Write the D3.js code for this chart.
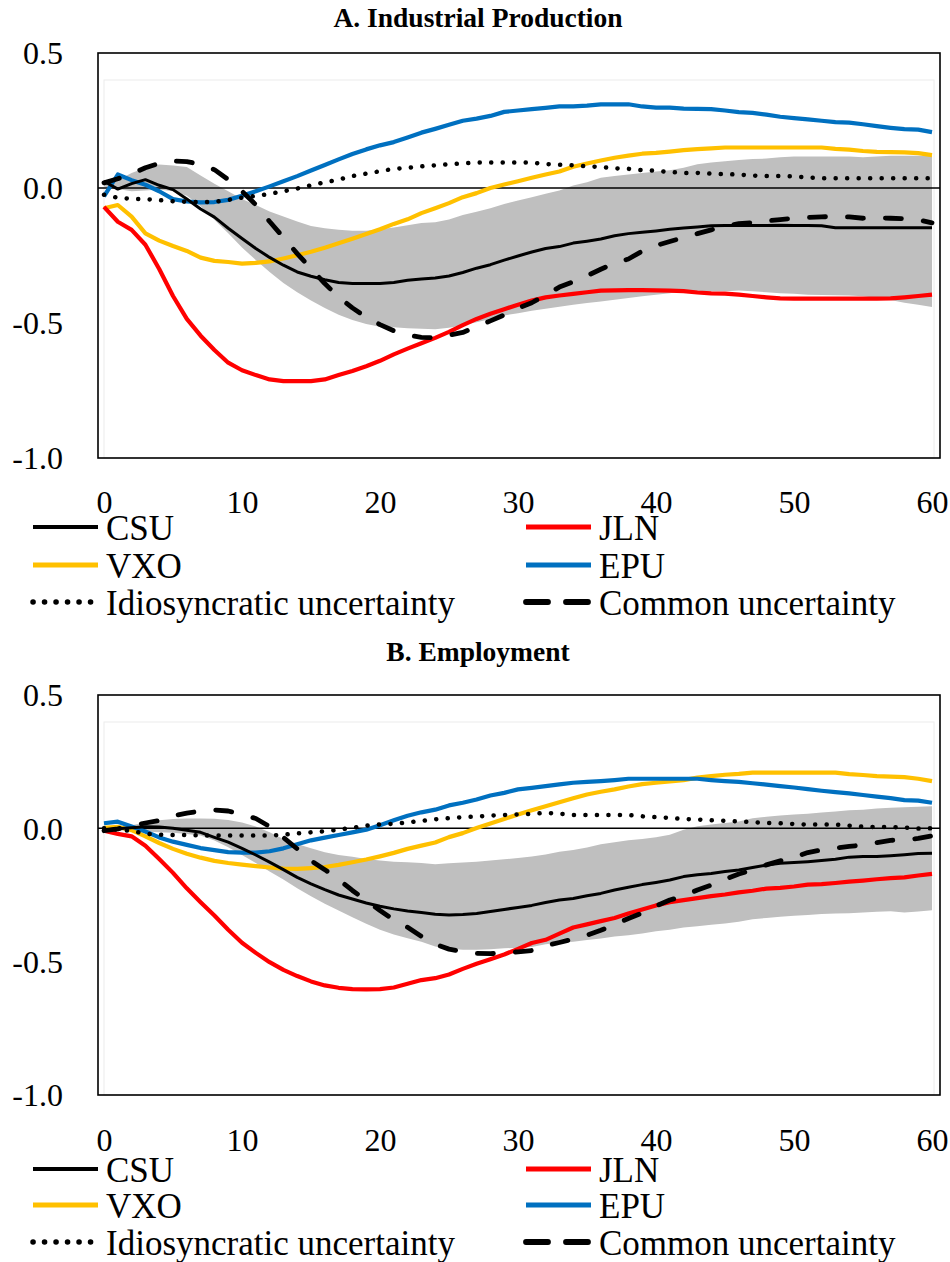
<!DOCTYPE html>
<html lang="en">
<head>
<meta charset="UTF-8">
<title>Uncertainty shocks IRF</title>
<style>
  body { margin: 0; background: #fff; }
</style>
</head>
<body>
<svg id="chart" width="950" height="1262"></svg>
<script src="https://d3js.org/d3.v7.min.js"></script>
<script>
// horizons (months) 0..60
const horizons = d3.range(0, 61);
const xTicks = [0, 10, 20, 30, 40, 50, 60];
const yTicks = [0.5, 0.0, -0.5, -1.0];
const titles = ["A. Industrial Production", "B. Employment"];
const seriesNames = ["CSU", "JLN", "VXO", "EPU", "Idiosyncratic uncertainty", "Common uncertainty"];
const FONT = "'Liberation Serif'";

// ---- Panel A: Industrial Production ----
const ipCSU = [0.025,-0.004,0.016,0.031,0.01,-0.006,-0.041,-0.078,-0.108,-0.149,-0.187,-0.224,-0.257,-0.286,-0.311,-0.327,-0.34,-0.35,-0.354,-0.354,-0.354,-0.35,-0.342,-0.337,
  -0.333,-0.326,-0.313,-0.297,-0.284,-0.267,-0.252,-0.237,-0.224,-0.217,-0.204,-0.197,-0.189,-0.177,-0.169,-0.164,-0.159,-0.153,-0.148,-0.144,-0.14,-0.139,-0.139,-0.139,-0.139,-0.138,-0.139,-0.139,-0.14,-0.147,-0.147,-0.147,-0.147,-0.147,-0.147,-0.147,-0.147];
const ipJLN = [-0.07,-0.125,-0.155,-0.21,-0.30,-0.40,-0.485,-0.547,-0.60,-0.647,-0.675,-0.693,-0.709,-0.715,-0.715,-0.715,-0.709,-0.693,-0.678,-0.66,-0.64,-0.616,
  -0.595,-0.575,-0.555,-0.533,-0.508,-0.485,-0.466,-0.449,-0.432,-0.417,-0.405,-0.398,-0.392,-0.386,-0.38,-0.379,-0.378,-0.378,-0.379,-0.38,-0.382,-0.387,-0.39,-0.391,-0.395,-0.40,-0.405,-0.409,-0.41,-0.41,-0.41,-0.41,-0.41,-0.41,-0.41,-0.409,-0.405,-0.40,-0.395];
const ipVXO = [-0.075,-0.063,-0.106,-0.168,-0.195,-0.215,-0.233,-0.258,-0.27,-0.274,-0.28,-0.277,-0.272,-0.261,-0.249,-0.236,-0.221,-0.205,-0.188,-0.17,-0.153,-0.133,-0.116,-0.093,
  -0.075,-0.056,-0.034,-0.019,0.0,0.013,0.025,0.038,0.05,0.061,0.079,0.091,0.102,0.112,0.12,0.127,0.13,0.135,0.14,0.144,0.147,0.15,0.15,0.15,0.15,0.15,0.15,0.15,0.15,0.145,0.142,0.137,0.134,0.133,0.132,0.129,0.122];
const ipEPU = [-0.031,0.05,0.029,0.012,-0.012,-0.041,-0.05,-0.053,-0.052,-0.044,-0.029,-0.012,0.006,0.025,0.044,0.065,0.085,0.106,0.126,0.143,0.158,0.17,0.187,0.205,
  0.219,0.234,0.249,0.257,0.267,0.282,0.287,0.292,0.297,0.302,0.302,0.305,0.31,0.31,0.31,0.302,0.298,0.298,0.294,0.293,0.292,0.287,0.281,0.278,0.272,0.264,0.259,0.254,0.249,0.244,0.242,0.236,0.229,0.223,0.218,0.216,0.207];
const ipIdio = [-0.025,-0.036,-0.04,-0.041,-0.045,-0.049,-0.051,-0.053,-0.051,-0.044,-0.036,-0.029,-0.022,-0.012,-0.002,0.01,0.021,0.031,0.044,0.053,0.062,0.071,0.075,0.08,
  0.084,0.088,0.091,0.094,0.094,0.094,0.094,0.094,0.089,0.086,0.084,0.08,0.078,0.073,0.071,0.066,0.064,0.059,0.056,0.056,0.053,0.051,0.05,0.046,0.044,0.044,0.043,0.039,0.036,0.036,0.036,0.036,0.036,0.036,0.036,0.036,0.036];
const ipCommon = [0.019,0.034,0.053,0.075,0.091,0.1,0.098,0.087,0.068,0.031,-0.012,-0.062,-0.124,-0.183,-0.243,-0.299,-0.354,-0.404,-0.444,-0.479,-0.506,-0.529,-0.545,-0.553,
  -0.555,-0.545,-0.535,-0.514,-0.492,-0.47,-0.445,-0.425,-0.397,-0.367,-0.347,-0.325,-0.301,-0.279,-0.263,-0.234,-0.213,-0.198,-0.184,-0.169,-0.155,-0.142,-0.132,-0.128,-0.122,-0.117,-0.112,-0.109,-0.107,-0.105,-0.107,-0.112,-0.11,-0.112,-0.114,-0.118,-0.129];
const ipBandHi = [0.019,0.029,0.056,0.075,0.087,0.083,0.078,0.046,0.016,-0.012,-0.041,-0.063,-0.087,-0.106,-0.124,-0.141,-0.149,-0.155,-0.158,-0.158,-0.153,-0.146,-0.138,-0.13,
  -0.127,-0.117,-0.1,-0.088,-0.075,-0.059,-0.046,-0.034,-0.021,-0.009,0.009,0.021,0.038,0.044,0.05,0.056,0.061,0.066,0.075,0.088,0.094,0.099,0.104,0.107,0.109,0.114,0.117,0.117,0.117,0.117,0.117,0.114,0.117,0.119,0.119,0.119,0.119];
const ipBandLo = [0.006,-0.004,-0.012,-0.009,-0.006,-0.012,-0.029,-0.068,-0.118,-0.168,-0.22,-0.267,-0.311,-0.352,-0.386,-0.417,-0.444,-0.469,-0.489,-0.504,-0.514,-0.516,-0.519,-0.521,
  -0.523,-0.518,-0.508,-0.497,-0.485,-0.472,-0.464,-0.455,-0.447,-0.44,-0.432,-0.426,-0.42,-0.414,-0.407,-0.401,-0.395,-0.39,-0.382,-0.382,-0.382,-0.382,-0.38,-0.382,-0.386,-0.39,-0.392,-0.395,-0.396,-0.397,-0.398,-0.401,-0.407,-0.415,-0.425,-0.432,-0.441];

// ---- Panel B: Employment ----
const empCSU = [-0.007,-0.002,0.002,0.006,0.005,0.0,-0.007,-0.015,-0.034,-0.052,-0.075,-0.1,-0.127,-0.155,-0.184,-0.208,-0.23,-0.25,-0.265,-0.28,-0.292,-0.302,-0.31,-0.316,
  -0.322,-0.325,-0.323,-0.319,-0.312,-0.304,-0.297,-0.289,-0.278,-0.269,-0.263,-0.253,-0.244,-0.231,-0.221,-0.211,-0.203,-0.194,-0.181,-0.174,-0.169,-0.162,-0.156,-0.147,-0.138,-0.131,-0.128,-0.125,-0.121,-0.116,-0.108,-0.106,-0.106,-0.103,-0.099,-0.094,-0.093];
const empJLN = [-0.009,-0.021,-0.03,-0.065,-0.115,-0.167,-0.225,-0.277,-0.327,-0.38,-0.429,-0.467,-0.502,-0.531,-0.554,-0.574,-0.589,-0.598,-0.603,-0.604,-0.603,-0.597,-0.583,-0.569,
  -0.562,-0.548,-0.527,-0.508,-0.491,-0.473,-0.452,-0.43,-0.418,-0.395,-0.372,-0.36,-0.348,-0.336,-0.319,-0.304,-0.289,-0.277,-0.269,-0.262,-0.254,-0.248,-0.24,-0.234,-0.226,-0.223,-0.218,-0.211,-0.209,-0.205,-0.2,-0.196,-0.191,-0.187,-0.184,-0.177,-0.171];
const empVXO = [0.002,0.006,-0.007,-0.03,-0.055,-0.077,-0.095,-0.11,-0.122,-0.13,-0.136,-0.142,-0.147,-0.151,-0.152,-0.149,-0.145,-0.137,-0.127,-0.117,-0.105,-0.092,-0.077,-0.065,
  -0.053,-0.033,-0.018,0.001,0.018,0.035,0.052,0.068,0.083,0.098,0.113,0.127,0.137,0.146,0.157,0.166,0.171,0.176,0.181,0.19,0.196,0.201,0.204,0.209,0.209,0.209,0.209,0.209,0.209,0.209,0.203,0.2,0.196,0.194,0.192,0.186,0.177];
const empEPU = [0.019,0.025,0.007,-0.012,-0.034,-0.05,-0.062,-0.074,-0.082,-0.089,-0.091,-0.091,-0.086,-0.075,-0.06,-0.045,-0.035,-0.025,-0.015,-0.005,0.012,0.03,0.047,0.06,
  0.07,0.086,0.096,0.108,0.123,0.133,0.146,0.152,0.158,0.165,0.171,0.174,0.177,0.181,0.186,0.186,0.186,0.186,0.186,0.186,0.181,0.177,0.174,0.169,0.164,0.158,0.153,0.147,0.141,0.136,0.131,0.125,0.119,0.113,0.106,0.104,0.096];
const empIdio = [0.0,-0.005,-0.01,-0.02,-0.024,-0.025,-0.025,-0.026,-0.027,-0.027,-0.027,-0.027,-0.027,-0.024,-0.019,-0.015,-0.011,-0.005,0.002,0.01,0.015,0.017,0.022,0.028,
  0.034,0.038,0.042,0.044,0.048,0.05,0.052,0.054,0.058,0.055,0.05,0.05,0.05,0.05,0.05,0.045,0.042,0.039,0.035,0.033,0.03,0.028,0.026,0.023,0.02,0.019,0.016,0.014,0.014,0.014,0.01,0.006,0.005,0.005,0.003,-0.001,0.0];
const empCommon = [-0.009,-0.002,0.01,0.02,0.029,0.047,0.057,0.065,0.069,0.065,0.052,0.037,0.007,-0.034,-0.077,-0.121,-0.155,-0.192,-0.233,-0.271,-0.308,-0.343,-0.371,-0.405,
  -0.435,-0.453,-0.463,-0.469,-0.47,-0.467,-0.463,-0.458,-0.44,-0.428,-0.415,-0.401,-0.382,-0.361,-0.338,-0.317,-0.291,-0.269,-0.254,-0.231,-0.213,-0.191,-0.171,-0.156,-0.137,-0.122,-0.109,-0.091,-0.081,-0.074,-0.068,-0.062,-0.054,-0.045,-0.043,-0.038,-0.028];
const empBandHi = [0.004,0.006,0.012,0.022,0.03,0.035,0.037,0.037,0.036,0.031,0.022,0.007,-0.015,-0.04,-0.059,-0.075,-0.09,-0.1,-0.107,-0.115,-0.121,-0.125,-0.127,-0.13,
  -0.135,-0.131,-0.128,-0.125,-0.121,-0.116,-0.111,-0.106,-0.098,-0.088,-0.081,-0.072,-0.06,-0.052,-0.045,-0.04,-0.033,-0.024,-0.005,0.008,0.014,0.02,0.026,0.038,0.043,0.048,0.052,0.055,0.059,0.063,0.068,0.07,0.074,0.077,0.079,0.081,0.083];
const empBandLo = [-0.005,-0.007,-0.01,-0.012,-0.015,-0.017,-0.021,-0.027,-0.046,-0.071,-0.1,-0.13,-0.162,-0.192,-0.225,-0.255,-0.283,-0.308,-0.333,-0.358,-0.38,-0.398,-0.412,-0.425,
  -0.443,-0.452,-0.455,-0.455,-0.453,-0.45,-0.448,-0.445,-0.435,-0.429,-0.425,-0.419,-0.413,-0.406,-0.401,-0.394,-0.386,-0.38,-0.372,-0.367,-0.362,-0.357,-0.35,-0.341,-0.336,-0.332,-0.328,-0.325,-0.321,-0.319,-0.318,-0.316,-0.313,-0.311,-0.316,-0.312,-0.307];

// line styles, in the same order as seriesNames
const styles = [
  { color: "#000000", width: 3,   dash: null,       cap: "butt" },
  { color: "#FF0000", width: 4.2, dash: null,       cap: "butt" },
  { color: "#FFC000", width: 4.2, dash: null,       cap: "butt" },
  { color: "#0070C0", width: 4.2, dash: null,       cap: "butt" },
  { color: "#000000", width: 4.5, dash: "0.1 11.4", cap: "round" },
  { color: "#000000", width: 4.8, dash: "16 22",    cap: "round" }
];
// draw order (bottom to top)
const drawOrder = [2, 3, 1, 4, 0, 5];

const svg = d3.select("#chart");
const x = d3.scaleLinear().domain([0, 60]).range([104, 932]);

function drawPanel(p) {
  const y = d3.scaleLinear().domain([-1, 0.5]).range([p.bottom, p.top]);
  const g = svg.append("g");

  g.append("text")
    .attr("x", 478).attr("y", p.titleY)
    .attr("text-anchor", "middle")
    .style("font-family", FONT)
    .style("font-size", "27.5px").style("font-weight", "bold")
    .text(p.title);

  // faint plot-area border
  g.append("rect")
    .attr("x", 104).attr("y", p.top + 27)
    .attr("width", 830).attr("height", p.bottom - p.top - 27)
    .attr("fill", "none").attr("stroke", "#ececec").attr("stroke-width", 1);

  // confidence band
  const area = d3.area()
    .x((d, i) => x(horizons[i]))
    .y0(d => y(d[0]))
    .y1(d => y(d[1]));
  g.append("path")
    .datum(p.lo.map((v, i) => [v, p.hi[i]]))
    .attr("fill", "#BFBFBF")
    .attr("d", area);

  // zero line
  g.append("line")
    .attr("x1", 98).attr("x2", 940)
    .attr("y1", y(0)).attr("y2", y(0))
    .attr("stroke", "#000").attr("stroke-width", 1.5);

  const line = d3.line().x((d, i) => x(horizons[i])).y(d => y(d));
  drawOrder.forEach(k => {
    const s = styles[k];
    g.append("path")
      .datum(p.series[k])
      .attr("fill", "none")
      .attr("stroke", s.color)
      .attr("stroke-width", s.width)
      .attr("stroke-linejoin", "round")
      .attr("stroke-linecap", s.cap)
      .attr("stroke-dasharray", s.dash)
      .attr("d", line);
  });

  // frame
  g.append("rect")
    .attr("x", 98).attr("y", p.top)
    .attr("width", 842).attr("height", p.bottom - p.top)
    .attr("fill", "none").attr("stroke", "#000").attr("stroke-width", 1.6);

  // y axis labels
  const yAxis = g.append("g")
    .attr("transform", "translate(98,0)")
    .call(d3.axisLeft(y).tickValues(yTicks).tickSize(0).tickPadding(35).tickFormat(d => d.toFixed(1)));
  yAxis.select(".domain").remove();
  yAxis.attr("font-family", null).attr("font-size", null);
  yAxis.selectAll("text")
    .style("font-family", FONT)
    .style("font-size", "32px")
    .attr("dy", "0.34em");

  // x axis labels
  const xAxis = g.append("g")
    .attr("transform", "translate(0," + p.xTickY + ")")
    .call(d3.axisBottom(x).tickValues(xTicks).tickSize(0).tickPadding(0).tickFormat(d3.format("d")));
  xAxis.select(".domain").remove();
  xAxis.attr("font-family", null).attr("font-size", null);
  xAxis.selectAll("text")
    .style("font-family", FONT)
    .style("font-size", "32px")
    .attr("y", 0).attr("dy", 0);

  // legend (two columns)
  const legendCols = [33, 526];
  seriesNames.forEach((name, k) => {
    const s = styles[k];
    const col = k % 2, row = Math.floor(k / 2);
    const lx = legendCols[col];
    const ly = p.legendY[row];
    g.append("line")
      .attr("x1", lx).attr("x2", lx + 65)
      .attr("y1", ly - 13).attr("y2", ly - 13)
      .attr("stroke", s.color)
      .attr("stroke-width", s.width + 1)
      .attr("stroke-linecap", s.cap)
      .attr("stroke-dasharray", k === 5 ? "22 18" : s.dash);
    g.append("text")
      .attr("x", lx + 73).attr("y", ly)
      .style("font-family", FONT)
      .style("font-size", "35px")
      .text(name);
  });
}

drawPanel({
  title: titles[0], titleY: 27, top: 53, bottom: 458, xTickY: 513,
  legendY: [540, 578, 615],
  series: [ipCSU, ipJLN, ipVXO, ipEPU, ipIdio, ipCommon],
  lo: ipBandLo, hi: ipBandHi
});
drawPanel({
  title: titles[1], titleY: 661, top: 695, bottom: 1095, xTickY: 1151,
  legendY: [1182, 1218, 1255],
  series: [empCSU, empJLN, empVXO, empEPU, empIdio, empCommon],
  lo: empBandLo, hi: empBandHi
});
</script>
</body>
</html>
